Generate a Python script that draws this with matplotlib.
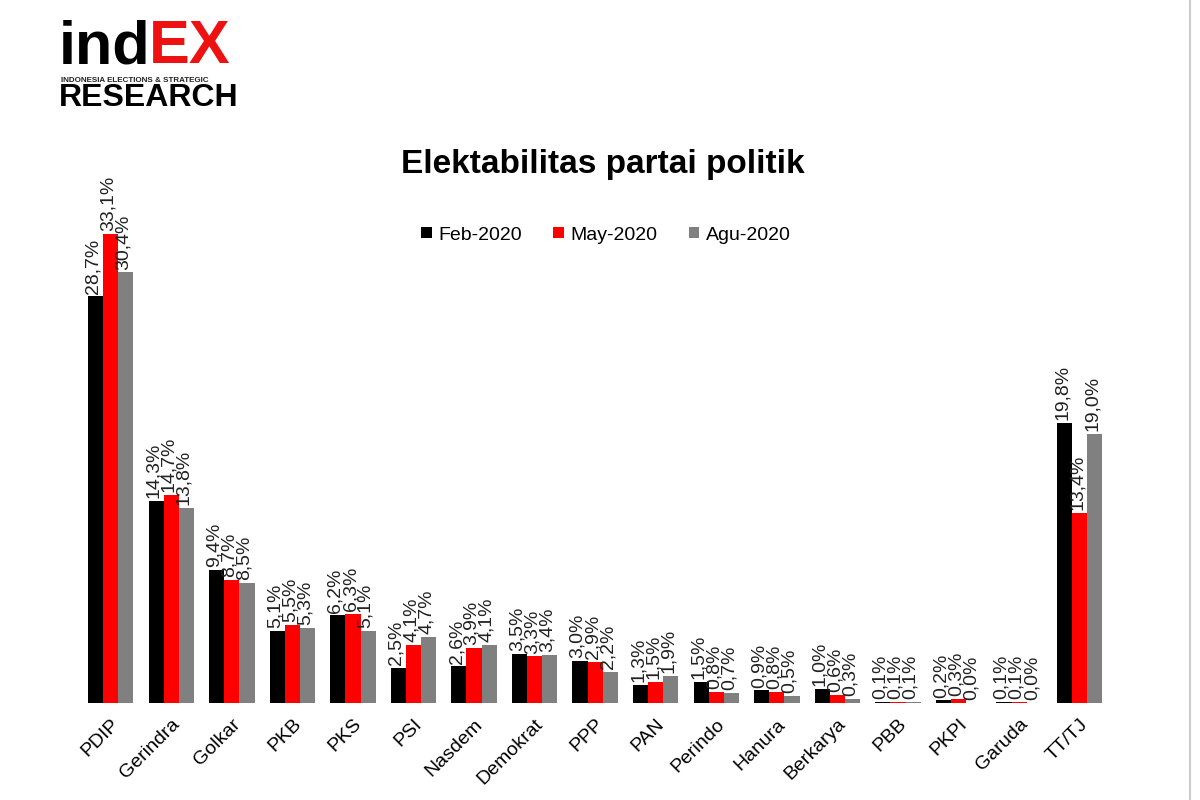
import numpy as np
import matplotlib

matplotlib.use("Agg")
import matplotlib.pyplot as plt

plt.rcParams["font.family"] = ["Liberation Sans", "DejaVu Sans"]

# ---------------------------------------------------------------------------
# Data
# ---------------------------------------------------------------------------
parties = ["PDIP", "Gerindra", "Golkar", "PKB", "PKS", "PSI", "Nasdem",
           "Demokrat", "PPP", "PAN", "Perindo", "Hanura", "Berkarya",
           "PBB", "PKPI", "Garuda", "TT/TJ"]
feb_2020 = [28.7, 14.3, 9.4, 5.1, 6.2, 2.5, 2.6, 3.5, 3.0, 1.3, 1.5, 0.9,
            1.0, 0.1, 0.2, 0.1, 19.8]
may_2020 = [33.1, 14.7, 8.7, 5.5, 6.3, 4.1, 3.9, 3.3, 2.9, 1.5, 0.8, 0.8,
            0.6, 0.1, 0.3, 0.1, 13.4]
agu_2020 = [30.4, 13.8, 8.5, 5.3, 5.1, 4.7, 4.1, 3.4, 2.2, 1.9, 0.7, 0.5,
            0.3, 0.1, 0.0, 0.0, 19.0]
series_names = ["Feb-2020", "May-2020", "Agu-2020"]
colors = ["#000000", "#FF0000", "#808080"]

# ---------------------------------------------------------------------------
# Figure
# ---------------------------------------------------------------------------
fig = plt.figure(figsize=(12, 8), dpi=100)
ax = fig.add_axes([0.067, 0.121, 0.858, 0.62])

x = np.arange(len(parties))
w = 0.25
for k, (vals, name, col) in enumerate(zip([feb_2020, may_2020, agu_2020],
                                           series_names, colors)):
    pos = x + (k - 1) * w
    ax.bar(pos, vals, width=w, color=col, label=name)
    for px, v in zip(pos, vals):
        ax.text(px - 0.04, v + 0.2, f"{v:.1f}%".replace(".", ","), rotation=90,
                ha="center", va="bottom", fontsize=14, color="#222222")

ax.set_xlim(-0.5, len(parties) - 0.5)
ax.set_ylim(0, 35)
ax.set_yticks([])
ax.set_xticks(x)
ax.set_xticklabels(parties, rotation=45, ha="right", rotation_mode="anchor",
                   fontsize=14)
ax.tick_params(axis="x", length=0, pad=9)
for s in ax.spines.values():
    s.set_visible(False)

fig.text(0.502, 1 - 165 / 800, "Elektabilitas partai politik", ha="center",
         va="center", fontsize=24, fontweight="bold")

fig.legend(loc="center", bbox_to_anchor=(0.505, 1 - 235 / 800), ncol=3,
           frameon=False, fontsize=14, handlelength=0.55, handleheight=0.55,
           handletextpad=0.35, columnspacing=1.6)

# logo
base_y = 1 - 63 / 800
t1 = fig.text(59 / 1200, base_y, "ind", fontsize=44, fontweight="bold",
              color="black", ha="left", va="baseline")
fig.canvas.draw()
fig.text(0, 0, "EX", fontsize=44, fontweight="bold", color="#EE1111",
         ha="left", va="baseline",
         transform=matplotlib.transforms.offset_copy(
             fig.transFigure, fig=fig, x=t1.get_window_extent().x1 - 2,
             y=base_y * 800, units="dots"))
fig.text(61 / 1200, 1 - 81 / 800, "INDONESIA ELECTIONS & STRATEGIC",
         fontsize=5.8, fontweight="bold", color="#222222", ha="left", va="center")
fig.text(59 / 1200, 1 - 106 / 800, "RESEARCH", fontsize=23, fontweight="bold",
         color="black", ha="left", va="baseline")

# thin border at right
fig.add_artist(plt.Line2D([0.992, 0.992], [0, 1], color="#cccccc", lw=1.5))

fig.savefig("out.png", dpi=100)
